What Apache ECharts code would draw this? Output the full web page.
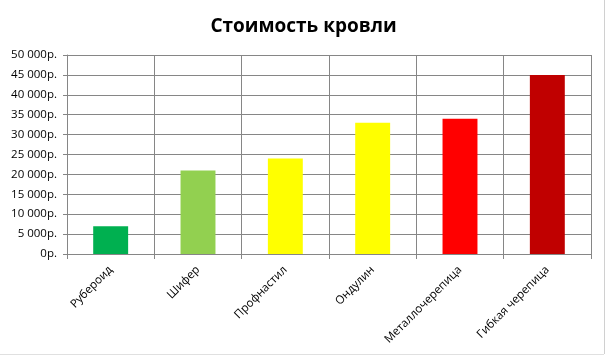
<!DOCTYPE html>
<html><head><meta charset="utf-8">
<script src="https://cdn.jsdelivr.net/npm/echarts@6/dist/echarts.min.js"></script>
<style>html,body{margin:0;padding:0;background:#fff}#c{width:607px;height:358px}</style>
</head><body><div id="c"></div>
<script>
const titleText = 'Стоимость кровли';
const categories = ['Рубероид', 'Шифер', 'Профнастил', 'Ондулин', 'Металлочерепица', 'Гибкая черепица'];
const values = [7000, 21000, 24000, 33000, 34000, 45000];
const barColors = ['#00B050', '#92D050', '#FFFF00', '#FFFF00', '#FF0000', '#C00000'];
const yMin = 0, yMax = 50000, yStep = 5000;

const chart = echarts.init(document.getElementById('c'));
chart.setOption({
  animation: false,
  backgroundColor: '#fff',
  title: {
    text: titleText, left: 'center', top: 12,
    textStyle: { fontFamily: 'Open Sans', fontWeight: 'bold', fontSize: 19, color: '#000' }
  },
  grid: { left: 67, right: 16, top: 55, bottom: 104, containLabel: false },
  xAxis: {
    type: 'category', data: categories,
    axisLine: { lineStyle: { color: '#868686', width: 1 } },
    axisTick: { show: true, alignWithLabel: false, length: 5, lineStyle: { color: '#868686' } },
    splitLine: { show: true, lineStyle: { color: '#868686', width: 1 } },
    axisLabel: { rotate: 45, interval: 0, fontFamily: 'Open Sans', fontSize: 11.5, color: '#000', margin: 14 }
  },
  yAxis: {
    type: 'value', min: yMin, max: yMax, interval: yStep,
    axisLine: { show: true, lineStyle: { color: '#868686' } },
    axisTick: { show: true, length: 4, lineStyle: { color: '#868686' } },
    splitLine: { show: true, lineStyle: { color: '#868686', width: 1 } },
    axisLabel: {
      fontFamily: 'Open Sans', fontSize: 11.5, color: '#000', margin: 10,
      formatter: v => (v === 0 ? '0' : (Math.floor(v / 1000) + ' ' + String(v % 1000).padStart(3, '0'))) + 'р.'
    }
  },
  series: [{
    type: 'bar', barWidth: '40%',
    data: values.map((v, i) => ({ value: v, itemStyle: { color: barColors[i] } }))
  }],
  graphic: [
    { type: 'line', shape: { x1: 604.5, y1: 0, x2: 604.5, y2: 354 }, style: { stroke: '#d0d0d0', lineWidth: 1 } },
    { type: 'line', shape: { x1: 0, y1: 354.5, x2: 604, y2: 354.5 }, style: { stroke: '#e0e0e0', lineWidth: 1 } }
  ]
});
</script></body></html>
